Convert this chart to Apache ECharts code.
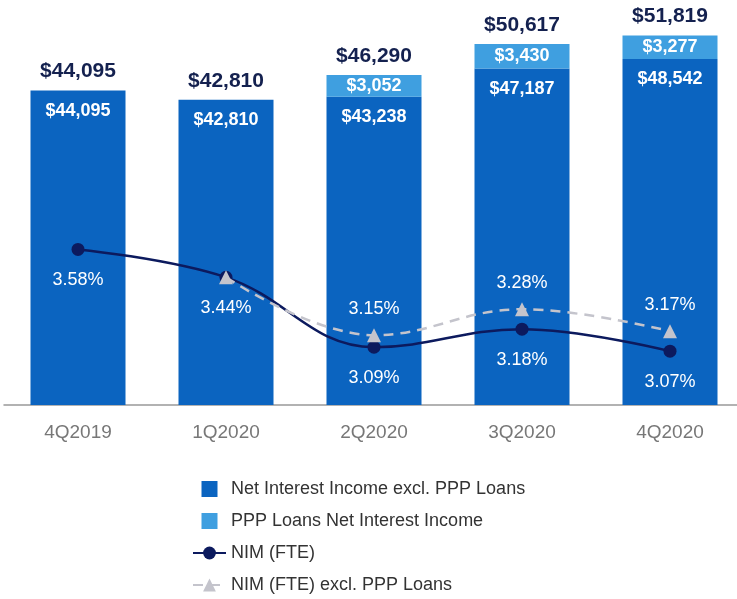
<!DOCTYPE html>
<html>
<head>
<meta charset="utf-8">
<script src="https://cdn.jsdelivr.net/npm/echarts@6/dist/echarts.min.js"></script>
<style>
  html, body { margin: 0; padding: 0; background: #fff; overflow: hidden; }
  #chart { width: 746px; height: 599px; }
</style>
</head>
<body>
<div id="chart"></div>
<script>
const quarters = ['4Q2019', '1Q2020', '2Q2020', '3Q2020', '4Q2020'];
const niiExPpp = [44095, 42810, 43238, 47187, 48542];
const pppNii = [null, null, 3052, 3430, 3277];
const totals = [44095, 42810, 46290, 50617, 51819];
const nim = [3.58, 3.44, 3.09, 3.18, 3.07];
const nimExPpp = [null, 3.44, 3.15, 3.28, 3.17];

const money = v => '$' + v.toLocaleString('en-US');
const font = 'Liberation Sans, Arial, sans-serif';

const chart = echarts.init(document.getElementById('chart'));
chart.setOption({
  animation: false,
  textStyle: { fontFamily: font },
  grid: { left: 4, right: 2, top: 10, height: 395 },
  legend: {
    orient: 'vertical',
    left: 187,
    top: 475,
    height: 130,
    itemWidth: 33,
    itemHeight: 16,
    itemGap: 14,
    textStyle: { fontSize: 18, color: '#333', fontFamily: font },
    data: [
      { name: 'Net Interest Income excl. PPP Loans', icon: 'path://M0,0h10v10h-10z' },
      { name: 'PPP Loans Net Interest Income', icon: 'path://M0,0h10v10h-10z' },
      { name: 'NIM (FTE)' },
      { name: 'NIM (FTE) excl. PPP Loans' }
    ]
  },
  xAxis: {
    type: 'category',
    data: quarters,
    axisLine: { lineStyle: { color: '#999', width: 1.5 } },
    axisTick: { alignWithLabel: true, length: 7, lineStyle: { color: '#999' } },
    axisLabel: { color: '#777', fontSize: 19, margin: 18 }
  },
  yAxis: [
    { type: 'value', min: 0, max: 55400, show: false },
    { type: 'value', min: 2.8, max: 4.78, show: false }
  ],
  series: [
    {
      name: 'Net Interest Income excl. PPP Loans',
      type: 'bar',
      stack: 'nii',
      barWidth: 95,
      itemStyle: { color: '#0b64c0' },
      label: {
        show: true, position: 'insideTop', distance: 11,
        color: '#fff', fontWeight: 'bold', fontSize: 18,
        formatter: p => money(p.value)
      },
      data: niiExPpp
    },
    {
      name: 'PPP Loans Net Interest Income',
      type: 'bar',
      stack: 'nii',
      barWidth: 95,
      itemStyle: { color: '#3f9fe0' },
      label: {
        show: true, position: 'inside',
        color: '#fff', fontWeight: 'bold', fontSize: 18,
        formatter: p => money(p.value)
      },
      data: pppNii
    },
    {
      name: 'Total',
      type: 'line',
      symbol: 'circle',
      symbolSize: 1,
      itemStyle: { color: 'rgba(0,0,0,0)' },
      lineStyle: { opacity: 0 },
      label: {
        show: true, position: 'top', distance: 8,
        color: '#14214f', fontWeight: 'bold', fontSize: 21,
        formatter: p => money(p.value)
      },
      z: 5,
      data: totals
    },
    {
      name: 'NIM (FTE)',
      type: 'line',
      yAxisIndex: 1,
      smooth: 0.4,
      symbol: 'circle',
      symbolSize: 13,
      itemStyle: { color: '#0c1a5e' },
      lineStyle: { color: '#0c1a5e', width: 2.5 },
      label: {
        show: true, position: 'bottom', distance: 15,
        color: '#fff', fontSize: 18,
        formatter: p => p.value.toFixed(2) + '%'
      },
      z: 6,
      data: nim
    },
    {
      name: 'NIM (FTE) excl. PPP Loans',
      type: 'line',
      yAxisIndex: 1,
      smooth: 0.4,
      symbol: 'triangle',
      symbolSize: 14,
      itemStyle: { color: '#c4c4cc' },
      lineStyle: { color: '#c4c4cc', width: 2.5, type: [10, 7] },
      label: {
        show: true, position: 'top', distance: 10,
        color: '#fff', fontSize: 18,
        formatter: p => p.dataIndex === 1 ? '' : p.value.toFixed(2) + '%'
      },
      z: 7,
      data: nimExPpp
    }
  ]
});
</script>
</body>
</html>
